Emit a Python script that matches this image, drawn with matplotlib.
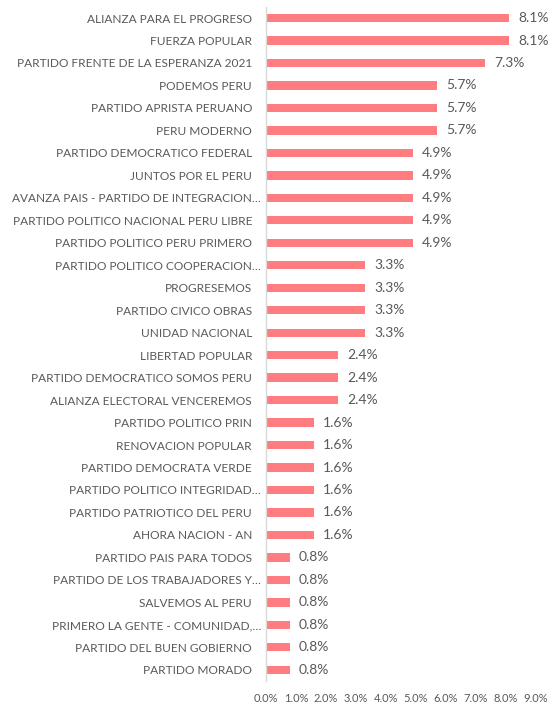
import matplotlib
matplotlib.use("Agg")
import matplotlib.pyplot as plt
from matplotlib.transforms import ScaledTranslation

parties = [
    "ALIANZA PARA EL PROGRESO",
    "FUERZA POPULAR",
    "PARTIDO FRENTE DE LA ESPERANZA 2021",
    "PODEMOS PERU",
    "PARTIDO APRISTA PERUANO",
    "PERU MODERNO",
    "PARTIDO DEMOCRATICO FEDERAL",
    "JUNTOS POR EL PERU",
    "AVANZA PAIS - PARTIDO DE INTEGRACION…",
    "PARTIDO POLITICO NACIONAL PERU LIBRE",
    "PARTIDO POLITICO PERU PRIMERO",
    "PARTIDO POLITICO COOPERACION…",
    "PROGRESEMOS",
    "PARTIDO CIVICO OBRAS",
    "UNIDAD NACIONAL",
    "LIBERTAD POPULAR",
    "PARTIDO DEMOCRATICO SOMOS PERU",
    "ALIANZA ELECTORAL VENCEREMOS",
    "PARTIDO POLITICO PRIN",
    "RENOVACION POPULAR",
    "PARTIDO DEMOCRATA VERDE",
    "PARTIDO POLITICO INTEGRIDAD…",
    "PARTIDO PATRIOTICO DEL PERU",
    "AHORA NACION - AN",
    "PARTIDO PAIS PARA TODOS",
    "PARTIDO DE LOS TRABAJADORES Y…",
    "SALVEMOS AL PERU",
    "PRIMERO LA GENTE - COMUNIDAD,…",
    "PARTIDO DEL BUEN GOBIERNO",
    "PARTIDO MORADO",
]
values = [8.1, 8.1, 7.3, 5.7, 5.7, 5.7, 4.9, 4.9, 4.9, 4.9, 4.9,
          3.3, 3.3, 3.3, 3.3, 2.4, 2.4, 2.4, 1.6, 1.6, 1.6, 1.6, 1.6, 1.6,
          0.8, 0.8, 0.8, 0.8, 0.8, 0.8]
xticks = [0, 1, 2, 3, 4, 5, 6, 7, 8, 9]

plt.rcParams['font.family'] = ['Lato', 'DejaVu Sans']
TXT = '#595959'
BAR = '#FF7C80'

fig = plt.figure(figsize=(5.58, 7.05), dpi=100)
W, H = 558, 705
left, right = 266, 536
top, bottom = 6.8, 681
ax = fig.add_axes([left / W, 1 - bottom / H, (right - left) / W, (bottom - top) / H])

y = list(range(len(parties)))
ax.barh(y, values, height=0.37, color=BAR)
ax.set_ylim(len(parties) - 0.5, -0.5)
ax.set_xlim(0, 9)

ax.set_yticks(y)
ax.set_yticklabels(parties, fontsize=8.6, color=TXT)
ax.tick_params(axis='y', length=0, pad=10)
for lab in ax.get_yticklabels():
    if lab.get_text().endswith('…'):
        lab.set_transform(lab.get_transform() + ScaledTranslation(9 / 100, 0, fig.dpi_scale_trans))

ax.set_xticks(xticks)
ax.set_xticklabels([f"{v:.1f}%" for v in xticks], fontsize=8, color=TXT)
ax.tick_params(axis='x', length=0, pad=9)

for s in ['top', 'right', 'bottom']:
    ax.spines[s].set_visible(False)
ax.spines['left'].set_color('#D9D9D9')
ax.spines['left'].set_linewidth(1)

for yi, v in zip(y, values):
    ax.text(v + 0.3, yi, f"{v:.1f}%", va='center', ha='left', fontsize=10, color=TXT)

fig.savefig('out.png', dpi=100)
